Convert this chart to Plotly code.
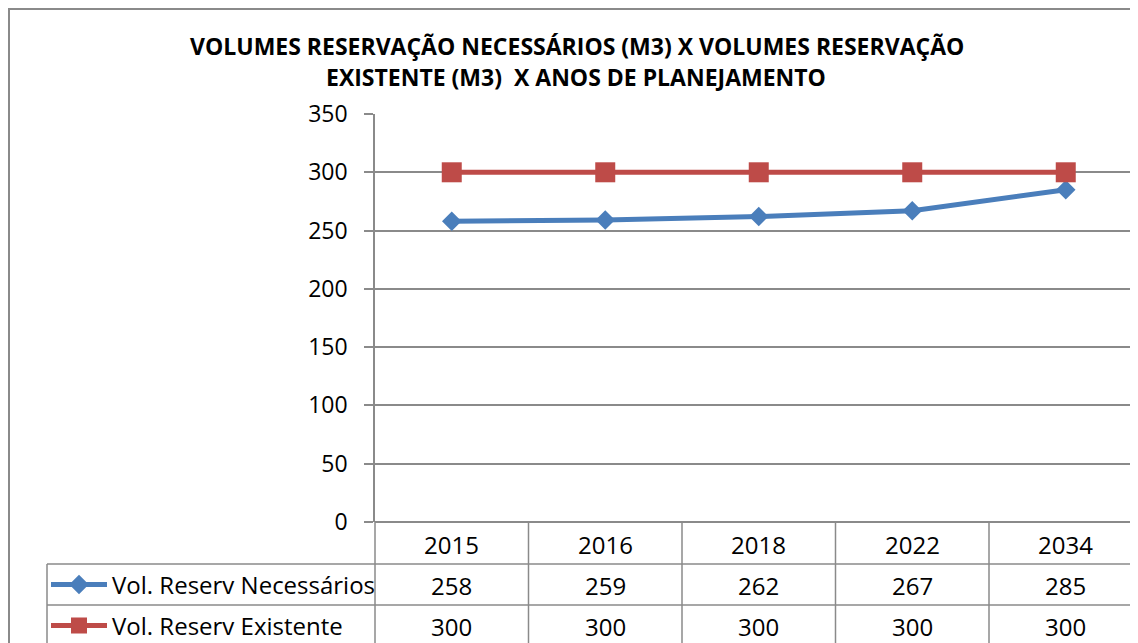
import plotly.graph_objects as go

W, H = 1138, 643

anos = ["2015", "2016", "2018", "2022", "2034"]
necessarios = [258, 259, 262, 267, 285]
existente = [300, 300, 300, 300, 300]
nome_necessarios = "Vol. Reserv Necessários"
nome_existente = "Vol. Reserv Existente"
titulo_1 = "VOLUMES RESERVAÇÃO NECESSÁRIOS (M3) X VOLUMES RESERVAÇÃO"
titulo_2 = "EXISTENTE (M3)\u00a0 X ANOS DE PLANEJAMENTO"

AZUL = "#4A7EBB"
VERMELHO = "#BE4B48"
CINZA = "#8A8A8A"
FONTE = "Open Sans"
TAM = 24

# the page body adds an 8px margin, so positions are given in page pixels
OFF = 8


def px(x):
    return (x - OFF) / W


def py(y):
    return 1 - (y - OFF) / H


# one category is ~153.5 px wide, plot area starts at x=375
passo = 153.5
x_max = (W + OFF - 375) / passo - 0.5

fig = go.Figure()
fig.add_trace(go.Scatter(
    x=anos, y=necessarios, name=nome_necessarios, mode="lines+markers",
    line=dict(color=AZUL, width=5),
    marker=dict(symbol="diamond", size=15, color=AZUL),
    legend="legend", showlegend=True,
))
fig.add_trace(go.Scatter(
    x=anos, y=existente, name=nome_existente, mode="lines+markers",
    line=dict(color=VERMELHO, width=5),
    marker=dict(symbol="square", size=20, color=VERMELHO),
    legend="legend2", showlegend=True,
))

shapes = []
# outer chart border
shapes.append(dict(type="rect", xref="paper", yref="paper",
                   x0=px(9), x1=px(1170), y0=py(9), y1=py(680),
                   line=dict(color=CINZA, width=2)))
# data table grid
shapes.append(dict(type="line", xref="paper", yref="paper",
                   x0=px(375), x1=px(375), y0=py(522), y1=py(680),
                   line=dict(color=CINZA, width=1.5)))
for i in range(len(anos) - 1):
    shapes.append(dict(type="line", xref="x", yref="paper",
                       x0=i + 0.5, x1=i + 0.5, y0=py(522), y1=py(680),
                       line=dict(color=CINZA, width=1.5)))
for yy in (564, 605):
    shapes.append(dict(type="line", xref="paper", yref="paper",
                       x0=px(47), x1=px(1170), y0=py(yy), y1=py(yy),
                       line=dict(color=CINZA, width=1.5)))
shapes.append(dict(type="line", xref="paper", yref="paper",
                   x0=px(47), x1=px(47), y0=py(564), y1=py(680),
                   line=dict(color=CINZA, width=1.5)))

annotations = [
    dict(text=titulo_1, x=px(577), y=py(46), xref="paper", yref="paper",
         xanchor="center", yanchor="middle", showarrow=False,
         font=dict(size=23, color="black", family=FONTE, weight="bold")),
    dict(text=titulo_2, x=px(576), y=py(77), xref="paper", yref="paper",
         xanchor="center", yanchor="middle", showarrow=False,
         font=dict(size=23, color="black", family=FONTE, weight="bold")),
]
linhas = [(anos, 544), ([str(v) for v in necessarios], 585), ([str(v) for v in existente], 626)]
for valores, yy in linhas:
    for i, v in enumerate(valores):
        annotations.append(dict(text=v, x=i, y=py(yy), xref="x", yref="paper",
                                xanchor="center", yanchor="middle", showarrow=False,
                                font=dict(size=TAM, color="black", family=FONTE)))

leg = dict(xanchor="left", yanchor="middle", bgcolor="rgba(0,0,0,0)", visible=True,
           font=dict(size=TAM, color="black", family=FONTE), itemwidth=56)

fig.update_layout(
    width=W, height=H,
    showlegend=True,
    margin=dict(l=0, r=0, t=0, b=0, autoexpand=False),
    paper_bgcolor="white", plot_bgcolor="white",
    font=dict(family=FONTE, color="black"),
    xaxis=dict(type="category", domain=[px(375), 1], range=[-0.5, x_max], showticklabels=False,
               showgrid=False, zeroline=False, showline=False, fixedrange=True),
    yaxis=dict(domain=[py(522), py(114)], range=[0, 350], dtick=50,
               showgrid=True, gridcolor=CINZA, gridwidth=1.5,
               zeroline=True, zerolinecolor=CINZA, zerolinewidth=1.5,
               showline=True, linecolor=CINZA, linewidth=1.5,
               ticks="outside", ticklen=9, tickcolor=CINZA, tickwidth=1.5,
               ticklabelstandoff=12, tickfont=dict(size=23, color="black", family=FONTE)),
    legend=dict(x=px(46), y=py(585), **leg),
    legend2=dict(x=px(46), y=py(626), **leg),
    shapes=shapes,
    annotations=annotations,
)

fig.write_html("out.html")
